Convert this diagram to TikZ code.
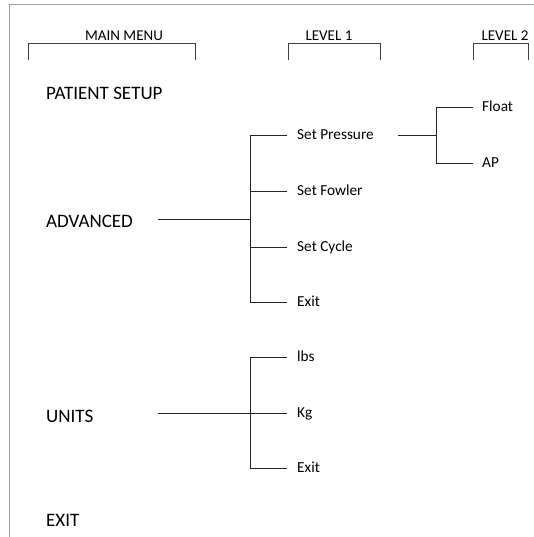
\documentclass[tikz,border=0pt]{standalone}
\usepackage{fontspec}
\setmainfont{Carlito}
\usepackage{tikz}
\usetikzlibrary{positioning}
\tikzset{
  mainitem/.style={anchor=west,inner sep=0pt,text height=12pt,text depth=0pt,
    font=\fontsize{19}{22}\selectfont},
  subitem/.style={anchor=west,inner sep=0pt,text height=9.7pt,text depth=0pt,
    font=\fontsize{15.3}{18}\selectfont},
  header/.style={inner sep=0pt,text height=9.5pt,text depth=0pt,
    font=\fontsize{15}{18}\selectfont},
  tree/.style={line width=0.8pt,draw=black!85},
  branch/.style={tree,shorten >=10pt},
  bracket/.style={line width=0.8pt,draw=black!75},
  frame/.style={line width=1pt,draw=gray!75}
}

\begin{document}
\begin{tikzpicture}[x=1pt,y=-1pt]
  \useasboundingbox (0,0) rectangle (534,537);
  % outer frame, left and top only
  \draw[frame] (9.5,537) |- (534,5);
  % column headers
  \node[header] (mm) at (124,36) {MAIN MENU};
  \node[header] (lv1) at (329,36) {LEVEL 1};
  \node[header] (lv2) at (505,36) {LEVEL 2};
  \draw[bracket] (28,60) |- (195,43) -- (195,60);
  \draw[bracket] (288,60) |- (380,43) -- (380,60);
  \draw[bracket] (473,60) |- (528,43) -- (528,60);
  % main menu
  \node[mainitem] (ps) at (46,94) {PATIENT SETUP};
  \node[mainitem] (adv) at (46,221) {ADVANCED};
  \node[mainitem] (units) at (46,416) {UNITS};
  \node[mainitem] (ex) at (46,520) {EXIT};
  % level 1
  \node[subitem] (spr) at (297,135) {Set Pressure};
  \node[subitem] (sfw) at (297,191) {Set Fowler};
  \node[subitem] (scy) at (297,247) {Set Cycle};
  \node[subitem] (aex) at (297,302) {Exit};
  \node[subitem] (lbs) at (297,357) {lbs};
  \node[subitem] (kg) at (297,413) {Kg};
  \node[subitem] (uex) at (297,468) {Exit};
  % level 2
  \node[subitem] (flt) at (482,107) {Float};
  \node[subitem] (ap) at (482,163) {AP};
  % junctions
  \coordinate (adv-o) at (158,219);
  \coordinate (adv-j) at (250,219);
  \coordinate (un-o) at (158,413);
  \coordinate (un-j) at (250,413);
  \coordinate (spr-o) at (398,135);
  \coordinate (spr-j) at (436,135);
  % ADVANCED tree
  \draw[tree] (adv-o) -- (adv-j);
  \draw[tree] (spr.west -| adv-j) -- (aex.west -| adv-j);
  \foreach \n in {spr,sfw,scy,aex}
    \draw[branch] (\n.west -| adv-j) -- (\n.west);
  % UNITS tree
  \draw[tree] (un-o) -- (un-j);
  \draw[tree] (lbs.west -| un-j) -- (uex.west -| un-j);
  \foreach \n in {lbs,kg,uex}
    \draw[branch] (\n.west -| un-j) -- (\n.west);
  % Set Pressure tree
  \draw[tree] (spr-o) -- (spr-j);
  \draw[tree] (flt.west -| spr-j) -- (ap.west -| spr-j);
  \foreach \n in {flt,ap}
    \draw[branch,shorten >=9pt] (\n.west -| spr-j) -- (\n.west);
\end{tikzpicture}
\end{document}
